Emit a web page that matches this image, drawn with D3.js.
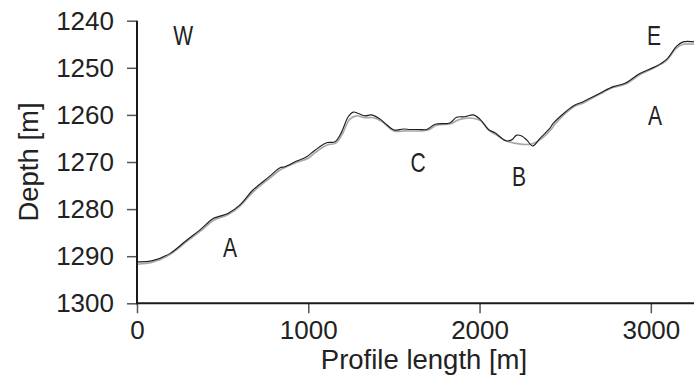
<!DOCTYPE html>
<html>
<head>
<meta charset="utf-8">
<script src="https://cdn.jsdelivr.net/npm/d3@7/dist/d3.min.js"></script>
<style>
  html, body { margin: 0; padding: 0; background: #fff; }
  svg { display: block; font-family: "Liberation Sans", Arial, Helvetica, sans-serif; }
</style>
</head>
<body>
<svg id="chart" width="694" height="391"></svg>
<script>
// Bathymetric profile: distance along profile (m) and depth (m)
const measuredDist = [0, 86, 193, 290, 368, 445, 485, 533, 601, 679, 776, 835, 864, 932, 991, 1039, 1107, 1156, 1195, 1233, 1263, 1292, 1331, 1370, 1419, 1458, 1500, 1555, 1594, 1652, 1691, 1741, 1827, 1866, 1915, 1963, 2002, 2051, 2090, 2154, 2187, 2217, 2246, 2275, 2310, 2353, 2411, 2430, 2547, 2605, 2703, 2780, 2849, 2936, 3024, 3092, 3151, 3189, 3252];
const measuredDepth = [1291.2, 1291.0, 1289.4, 1286.6, 1284.4, 1282.0, 1281.5, 1280.9, 1279.1, 1275.9, 1273.0, 1271.2, 1271.0, 1269.8, 1268.9, 1267.5, 1265.9, 1265.7, 1263.6, 1260.4, 1259.4, 1259.7, 1260.2, 1260.0, 1260.9, 1262.1, 1263.2, 1263.0, 1263.1, 1263.1, 1263.1, 1262.0, 1261.7, 1260.5, 1260.4, 1260.0, 1260.9, 1263.1, 1263.8, 1265.5, 1265.3, 1264.3, 1264.5, 1265.3, 1266.6, 1265.0, 1262.8, 1261.8, 1258.1, 1257.2, 1255.4, 1254.0, 1253.3, 1251.2, 1249.8, 1248.2, 1245.4, 1244.5, 1244.5];

const smoothDist = [0, 90, 190, 290, 370, 450, 530, 600, 680, 780, 840, 930, 1000, 1040, 1110, 1160, 1200, 1240, 1280, 1330, 1380, 1430, 1500, 1560, 1650, 1700, 1750, 1830, 1880, 1960, 2010, 2060, 2100, 2160, 2300, 2360, 2420, 2440, 2550, 2610, 2700, 2780, 2850, 2940, 3020, 3090, 3150, 3190, 3252];
const smoothDepth = [1291.7, 1291.3, 1289.7, 1286.9, 1284.7, 1282.3, 1281.2, 1279.4, 1276.3, 1273.3, 1271.6, 1270.1, 1269.2, 1268.0, 1266.4, 1266.0, 1264.0, 1261.0, 1260.2, 1260.6, 1260.6, 1261.4, 1263.4, 1263.4, 1263.4, 1263.2, 1262.2, 1261.9, 1261.0, 1260.7, 1261.3, 1263.4, 1264.3, 1265.6, 1266.2, 1265.1, 1263.0, 1262.0, 1258.3, 1257.4, 1255.6, 1254.2, 1253.5, 1251.4, 1250.0, 1248.5, 1245.8, 1245.0, 1245.0];

const xTicks = [0, 1000, 2000, 3000];
const yTicks = [1240, 1250, 1260, 1270, 1280, 1290, 1300];

// Region annotations
const annotations = [
  { text: "W", dist: 269,  depth: 1243.0 },
  { text: "A", dist: 543,  depth: 1288.0 },
  { text: "C", dist: 1641, depth: 1270.1 },
  { text: "B", dist: 2230, depth: 1273.0 },
  { text: "E", dist: 3019, depth: 1243.0 },
  { text: "A", dist: 3024, depth: 1260.0 }
];

const svg = d3.select("#chart");
const x = d3.scaleLinear().domain([0, 3252]).range([137, 694]);
const y = d3.scaleLinear().domain([1240, 1300]).range([20.7, 303.3]);

// Lines
const line = (xs, ys) => d3.line()
  .x((d, i) => x(xs[i]))
  .y((d, i) => y(ys[i]))
  .curve(d3.curveCatmullRom.alpha(0.5))(xs);

svg.append("path")
  .attr("d", line(smoothDist, smoothDepth))
  .attr("fill", "none")
  .attr("stroke", "#a8a8a8")
  .attr("stroke-width", 1.6);

svg.append("path")
  .attr("d", line(measuredDist, measuredDepth))
  .attr("fill", "none")
  .attr("stroke", "#1e1e1e")
  .attr("stroke-width", 1.15);

// Y axis
const yAxis = svg.append("g")
  .attr("transform", "translate(137,0)")
  .call(d3.axisLeft(y).tickValues(yTicks).tickSize(10).tickPadding(13).tickFormat(d3.format("d")));
yAxis.select(".domain").remove();
yAxis.selectAll(".tick line").attr("stroke", "#555").attr("stroke-width", 1.5);
yAxis.selectAll(".tick text")
  .attr("font-size", 26).attr("fill", "#222")
  .attr("font-family", "Liberation Sans, Arial, sans-serif");
svg.append("line")
  .attr("x1", 137).attr("x2", 137)
  .attr("y1", y(1240)).attr("y2", y(1300) + 1)
  .attr("stroke", "#1a1a1a").attr("stroke-width", 2);

// X axis
const xAxis = svg.append("g")
  .attr("transform", `translate(0,${y(1300)})`)
  .call(d3.axisBottom(x).tickValues(xTicks).tickSize(10).tickPadding(7).tickFormat(d3.format("d")));
xAxis.select(".domain").remove();
xAxis.selectAll(".tick line").attr("stroke", "#555").attr("stroke-width", 1.5);
xAxis.selectAll(".tick text")
  .attr("font-size", 26).attr("fill", "#222")
  .attr("font-family", "Liberation Sans, Arial, sans-serif");
svg.append("line")
  .attr("x1", 136).attr("x2", 694)
  .attr("y1", y(1300)).attr("y2", y(1300))
  .attr("stroke", "#1a1a1a").attr("stroke-width", 2);

// Axis titles
svg.append("text")
  .attr("x", 424).attr("y", 369)
  .attr("text-anchor", "middle")
  .attr("font-size", 27.5).attr("fill", "#222")
  .text("Profile length [m]");

svg.append("text")
  .attr("transform", `translate(38,${(y(1240) + y(1300)) / 2}) rotate(-90)`)
  .attr("text-anchor", "middle")
  .attr("font-size", 27.5).attr("fill", "#222")
  .text("Depth [m]");

// Annotation letters (narrow lettering)
svg.append("g").selectAll("text")
  .data(annotations)
  .join("text")
  .attr("transform", d => `translate(${x(d.dist)},${y(d.depth)}) scale(0.78,1)`)
  .attr("text-anchor", "middle")
  .attr("dy", "0.36em")
  .attr("font-size", 27)
  .attr("fill", "#222")
  .text(d => d.text);
</script>
</body>
</html>
